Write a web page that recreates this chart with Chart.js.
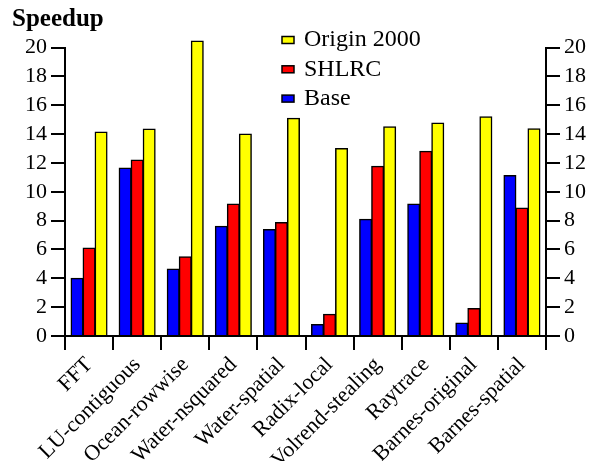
<!DOCTYPE html>
<html>
<head>
<meta charset="utf-8">
<script src="https://cdn.jsdelivr.net/npm/chart.js@4.4.1/dist/chart.umd.min.js"></script>
<style>
  html, body { margin: 0; padding: 0; background: #fff; }
  #wrap { width: 600px; height: 461px; position: relative; }
</style>
</head>
<body>
<div id="wrap"><canvas id="speedupChart" width="600" height="461"></canvas></div>
<script>
// data
const categories = ['FFT', 'LU-contiguous', 'Ocean-rowwise', 'Water-nsquared', 'Water-spatial',
    'Radix-local', 'Volrend-stealing', 'Raytrace', 'Barnes-original', 'Barnes-spatial'];
const baseValues = [4.0, 11.65, 4.65, 7.6, 7.38, 0.8, 8.1, 9.15, 0.9, 11.12];
const shlrcValues = [6.1, 12.2, 5.5, 9.15, 7.87, 1.5, 11.76, 12.8, 1.9, 8.88];
const originValues = [14.15, 14.35, 20.45, 14.0, 15.1, 13.0, 14.5, 14.77, 15.2, 14.37];
const seriesNames = ['Base', 'SHLRC', 'Origin 2000'];
const yTicks = [0, 2, 4, 6, 8, 10, 12, 14, 16, 18, 20];

const FONT = "'Liberation Serif', 'Times New Roman', serif";
const colors = ['#0000ff', '#ff0000', '#ffff00'];

Chart.defaults.font.family = FONT;
Chart.defaults.color = '#000';

// title + legend drawn by hand, the built-in ones can't be placed like the original
const decorPlugin = {
    id: 'decor',
    afterDraw(chart) {
        const ctx = chart.ctx;
        ctx.save();
        ctx.fillStyle = '#000';
        ctx.font = Chart.helpers.toFont({ family: FONT, size: 25, weight: 'bold' }).string;
        ctx.textBaseline = 'alphabetic';
        ctx.textAlign = 'left';
        ctx.fillText('Speedup', 12, 26);

        // legend, top to bottom: Origin 2000, SHLRC, Base
        const legendFont = Chart.helpers.toFont({ family: FONT, size: 24 }).string;
        const rows = chart.data.datasets.slice().reverse();
        rows.forEach((ds, i) => {
            const cy = 40 + i * 29.3;
            ctx.fillStyle = ds.backgroundColor;
            ctx.fillRect(282, cy - 3.5, 12, 7);
            ctx.strokeStyle = '#000';
            ctx.lineWidth = 1.5;
            ctx.strokeRect(282, cy - 3.5, 12, 7);
            ctx.fillStyle = '#000';
            ctx.font = legendFont;
            ctx.textBaseline = 'middle';
            ctx.fillText(ds.label, 304, cy);
        });
        ctx.restore();
    }
};

const tickFont = { family: FONT, size: 22 };

function axisY(pos, width) {
    return {
        position: pos,
        min: 0,
        max: 20,
        afterBuildTicks: function (scale) {
            scale.ticks = yTicks.map(v => ({ value: v }));
        },
        ticks: { color: '#000', font: tickFont, padding: 4, autoSkip: false },
        grid: { drawOnChartArea: false, drawTicks: true, tickLength: 14, color: '#000', lineWidth: 2 },
        border: { color: '#000', width: 2 },
        afterFit: function (scale) { scale.width = width; }
    };
}

const ctx = document.getElementById('speedupChart').getContext('2d');
const speedupChart = new Chart(ctx, {
    type: 'bar',
    data: {
        labels: categories,
        datasets: [
            { label: seriesNames[0], data: baseValues, backgroundColor: colors[0] },
            { label: seriesNames[1], data: shlrcValues, backgroundColor: colors[1] },
            { label: seriesNames[2], data: originValues, backgroundColor: colors[2] }
        ].map(d => Object.assign(d, {
            borderColor: '#000',
            borderWidth: 1.5,
            barPercentage: 1.0,
            categoryPercentage: 0.75,
            inflateAmount: 0.5,
            clip: false,
            yAxisID: 'y'
        }))
    },
    options: {
        responsive: false,
        animation: false,
        layout: { padding: { top: 47.5, left: 0, right: 0, bottom: 0 } },
        plugins: {
            legend: { display: false },
            title: { display: false },
            tooltip: { enabled: false }
        },
        scales: {
            x: {
                grid: { offset: true, drawOnChartArea: false, drawTicks: true, tickLength: 14, color: '#000', lineWidth: 2 },
                border: { color: '#000', width: 2 },
                ticks: { color: '#000', font: tickFont, maxRotation: 45, minRotation: 45, autoSkip: false, padding: 2 },
                afterFit: function (scale) { scale.height = 125; }
            },
            y: axisY('left', 65),
            y2: axisY('right', 54)
        }
    },
    plugins: [decorPlugin]
});
</script>
</body>
</html>
